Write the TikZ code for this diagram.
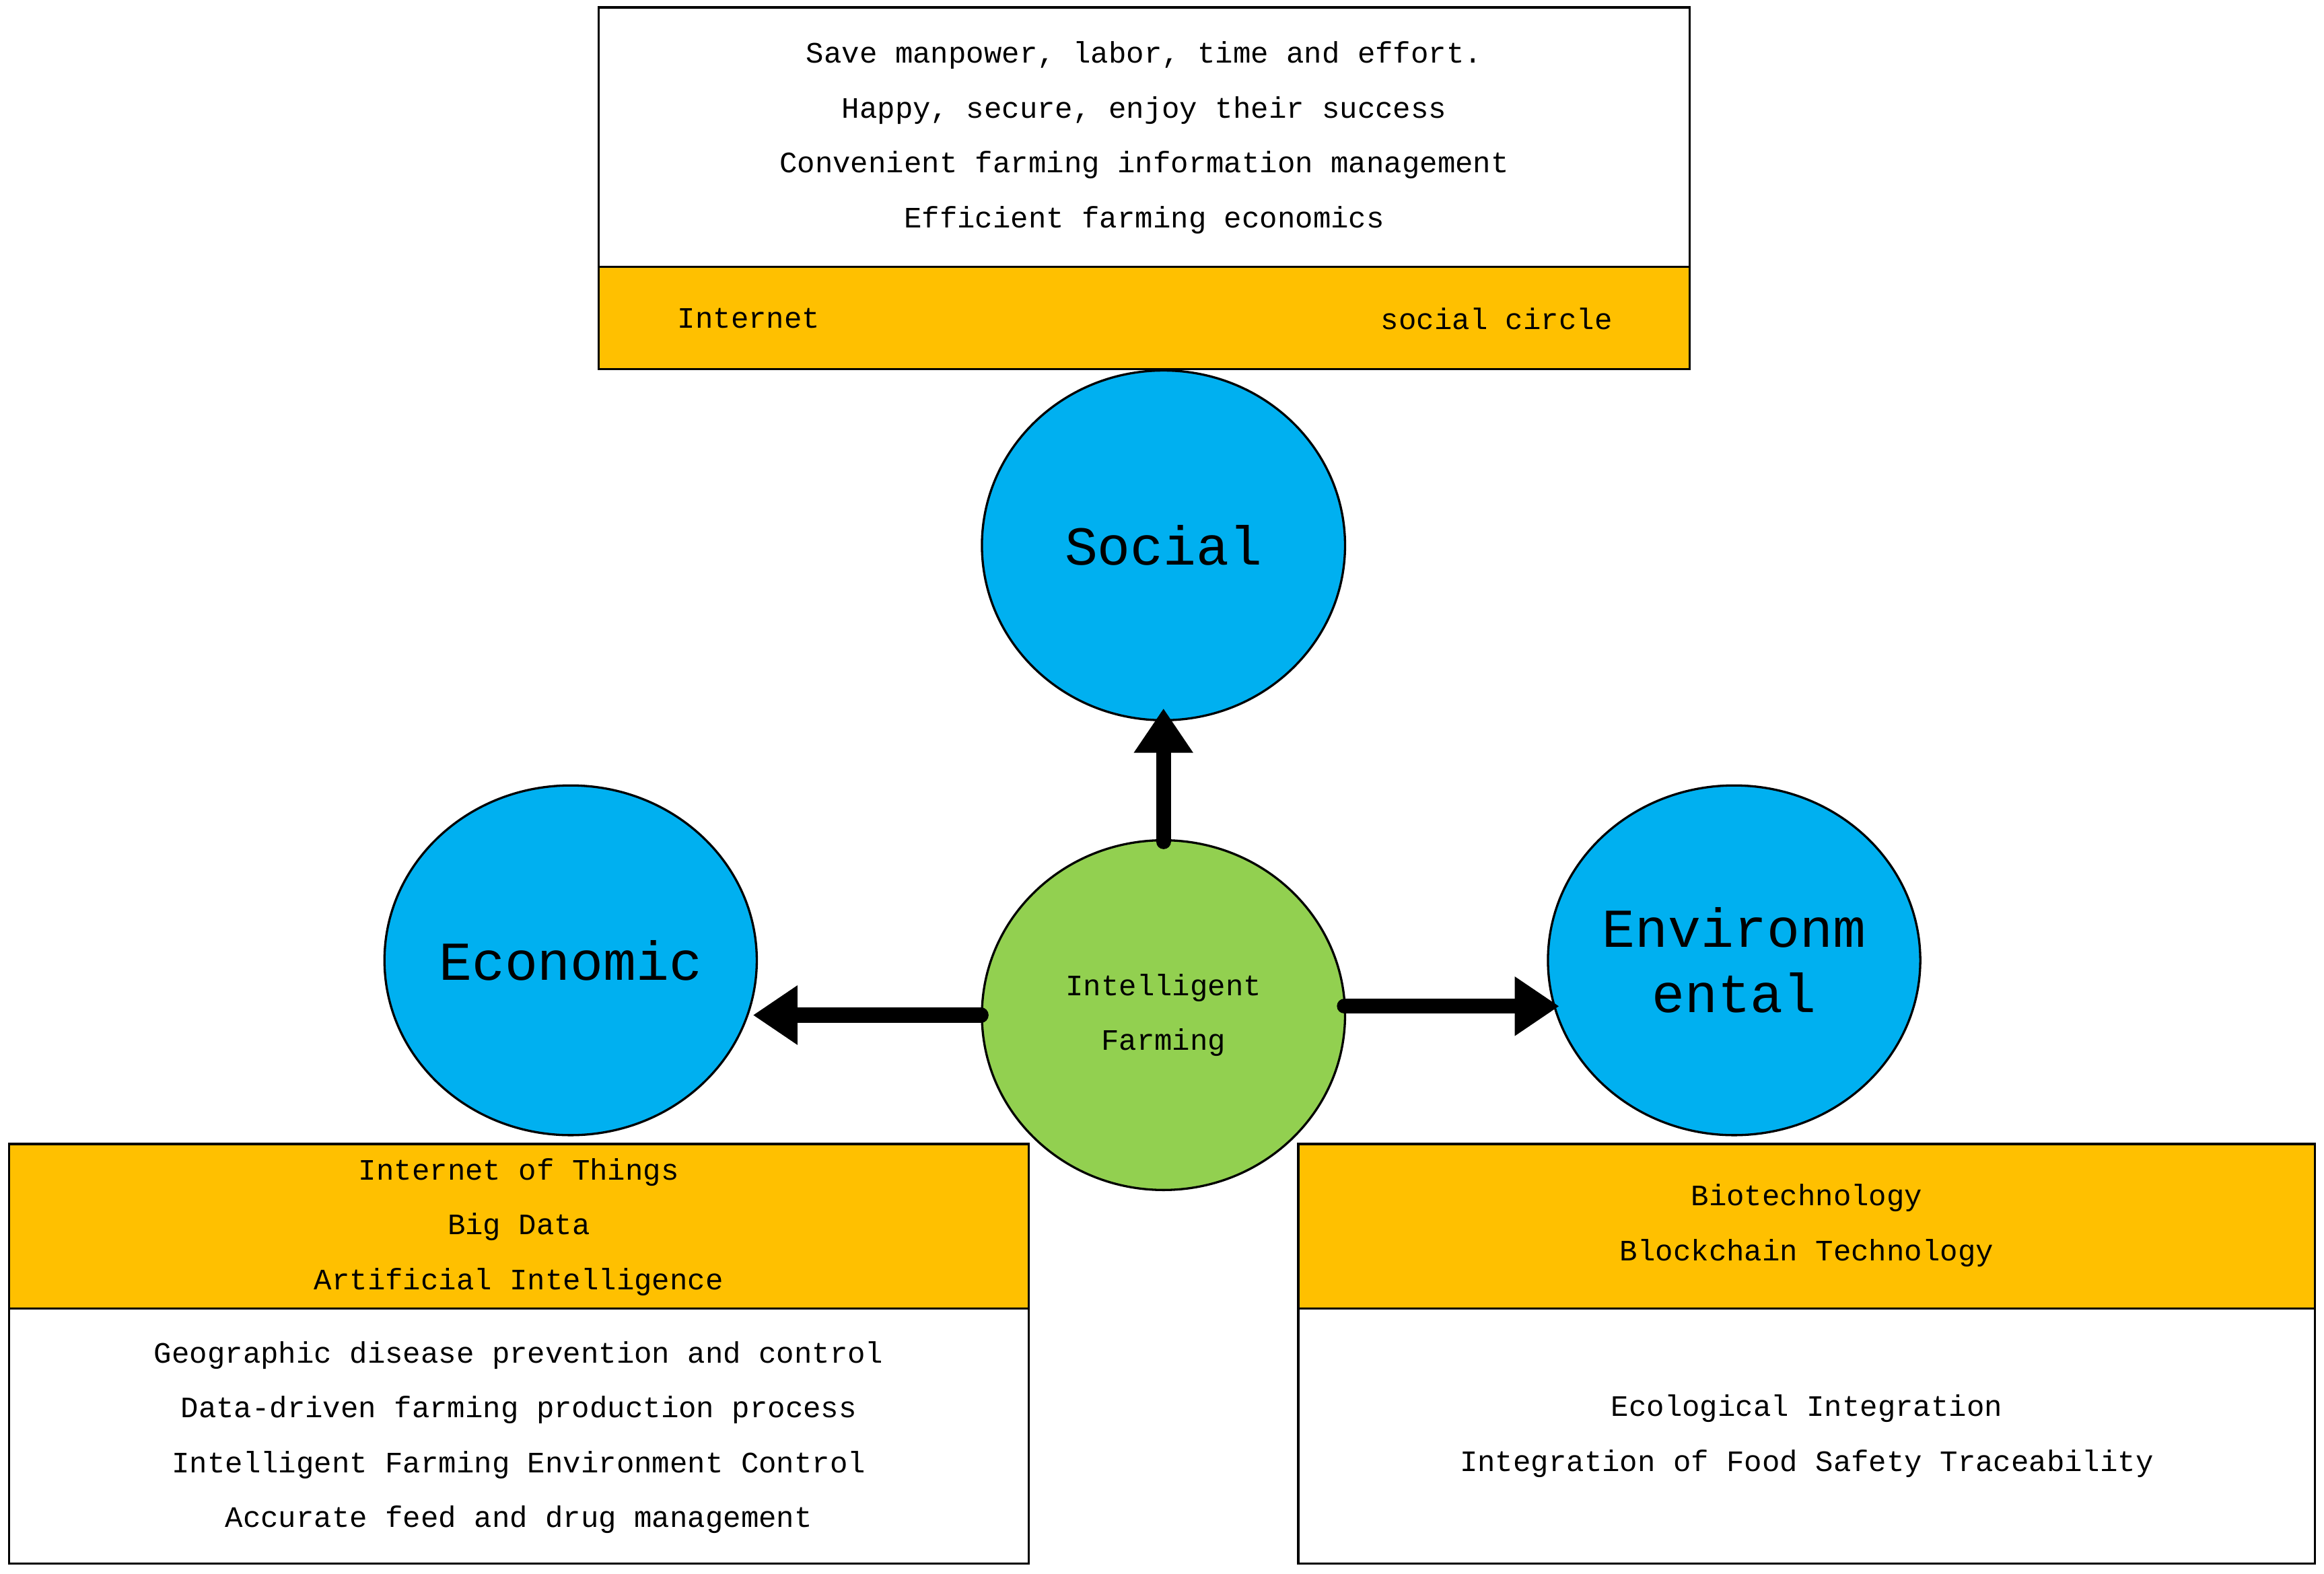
\documentclass[tikz,border=0pt]{standalone}
\usepackage{fontspec}
\setmainfont{Liberation Mono}
\usetikzlibrary{arrows.meta,shapes.geometric}
\definecolor{cblue}{HTML}{00B0F0}
\definecolor{corange}{HTML}{FFC000}
\definecolor{cgreen}{HTML}{92D050}
\begin{document}
\begin{tikzpicture}[x=1pt,y=-1pt,
  circ/.style={draw=black,line width=1.5pt,fill=cblue,ellipse,minimum width=245pt,minimum height=236pt,inner sep=0pt,font=\fontsize{37}{44}\selectfont,align=center},
  txt/.style={font=\fontsize{20}{37}\selectfont,align=center,inner sep=0pt},
  box/.style={draw=black,line width=1.5pt},
  arr/.style={line width=10pt,line cap=round,-{Triangle[length=30pt,width=38pt,line cap=butt]}}]
\useasboundingbox (0,0) rectangle (1568,1062);
% top box
\draw[box,fill=white] (404,5) rectangle (1140,180);
\draw[box,fill=corange] (404,180) rectangle (1140,249);
\node[txt] (t1) at (772,93) {Save manpower, labor, time and effort.\\Happy, secure, enjoy their success\\Convenient farming information management\\Efficient farming economics};
\node[txt,anchor=west] (t2) at (457,215) {Internet};
\node[txt,anchor=east] (t3) at (1088,215) {social circle};
% circles
\node[circ] (soc) at (785,368) {Social};
\node[circ] (eco) at (385,648) {Economic};
\node[circ] (env) at (1170,648) {Environm\\ental};
\node[circ,fill=cgreen,font=\fontsize{20}{37}\selectfont] (int) at (785,685) {Intelligent\\Farming};
% arrows
\coordinate (a1) at (785,568); \coordinate (a1e) at (785,478);
\coordinate (a2) at (662,685); \coordinate (a2e) at (508,685);
\coordinate (a3) at (907,679); \coordinate (a3e) at (1052,679);
\draw[arr] (a1) -- (a1e);
\draw[arr] (a2) -- (a2e);
\draw[arr] (a3) -- (a3e);
% bottom-left
\draw[box,fill=corange] (6,772) rectangle (694,883);
\draw[box,fill=white] (6,883) rectangle (694,1055);
\node[txt] (l1) at (350,828) {Internet of Things\\Big Data\\Artificial Intelligence};
\node[txt] (l2) at (350,970) {Geographic disease prevention and control\\Data-driven farming production process\\Intelligent Farming Environment Control\\Accurate feed and drug management};
% bottom-right
\draw[box,fill=corange] (876,772) rectangle (1562,883);
\draw[box,fill=white] (876,883) rectangle (1562,1055);
\node[txt] (r1) at (1219,827) {Biotechnology\\Blockchain Technology};
\node[txt] (r2) at (1219,969) {Ecological Integration\\Integration of Food Safety Traceability};
\end{tikzpicture}
\end{document}
